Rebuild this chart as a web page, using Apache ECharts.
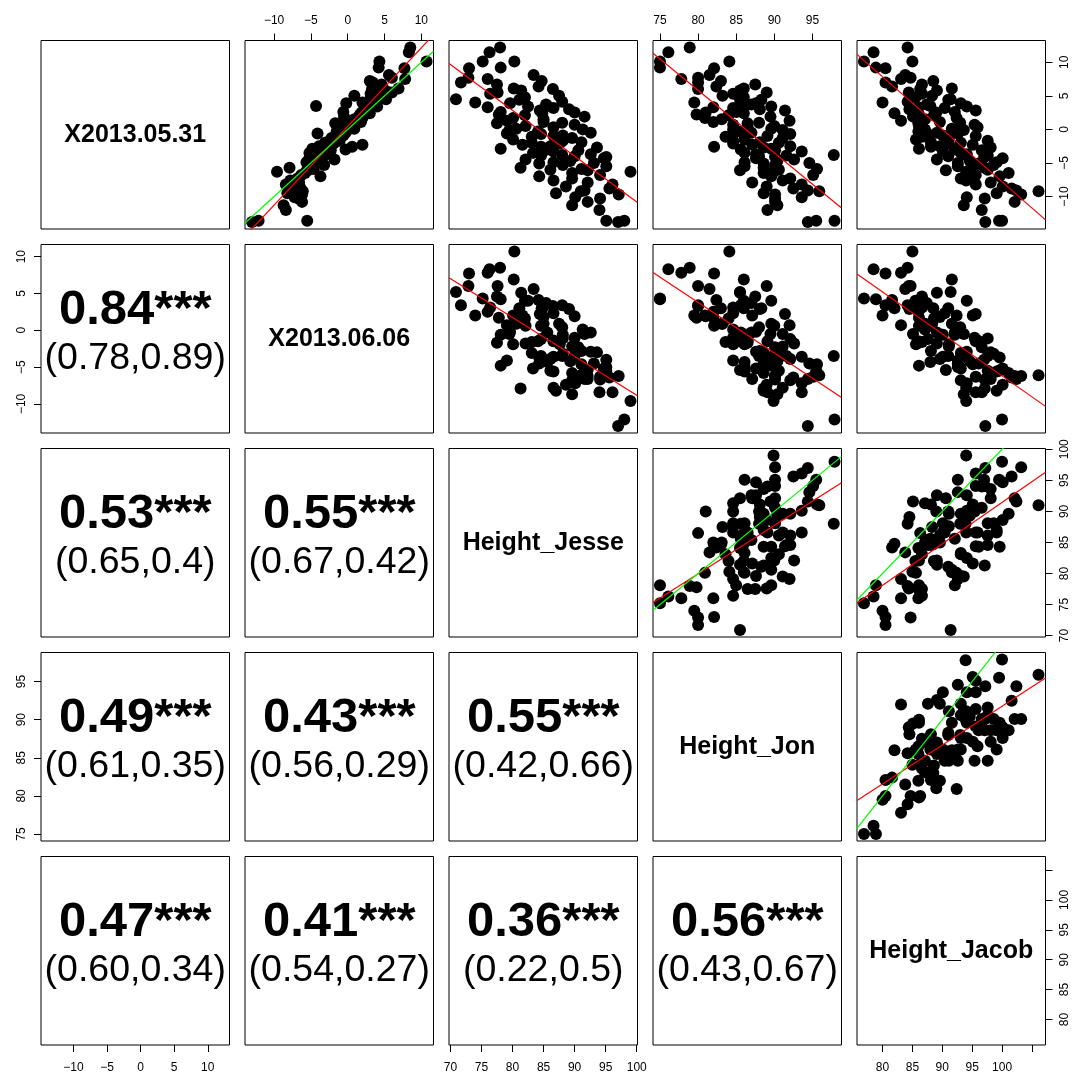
<!DOCTYPE html>
<html>
<head>
<meta charset="utf-8">
<script src="https://cdn.jsdelivr.net/npm/echarts@6.0.0/dist/echarts.min.js"></script>
<style>
html, body { margin: 0; padding: 0; background: #fff; }
#chart { width: 1076px; height: 1075px; }
</style>
</head>
<body>
<div id="chart"></div>
<script>
// variable names (diagonal)
const varNames = ['X2013.05.31', 'X2013.06.06', 'Height_Jesse', 'Height_Jon', 'Height_Jacob'];

const x0531 = [12.2, 11.5, 10.1, 10.1, 9.2, 9.1, 8.1, 7.7, 7.5, 7.2,
  7.0, 6.7, 6.4, 6.1, 6.0, 5.8, 5.5, 5.3, 5.0, 4.8,
  4.5, 4.4, 4.1, 4.0, 3.9, 3.7, 3.5, 3.4, 3.3, 3.2,
  3.0, 2.8, 2.6, 2.5, 2.4, 2.2, 2.1, 1.9, 1.7, 1.5,
  1.3, 1.1, 1.0, 0.9, 0.7, 0.5, 0.3, 0.1, 0.0, -0.1,
  -0.3, -0.5, -0.6, -0.7, -0.9, -1.0, -1.1, -1.3, -1.5, -1.7,
  -1.9, -2.0, -2.1, -2.3, -2.5, -2.6, -2.7, -2.9, -3.0, -3.1,
  -3.3, -3.5, -3.7, -3.8, -3.9, -4.0, -4.1, -4.3, -4.5, -4.7,
  -4.9, -5.0, -5.1, -5.3, -5.5, -5.7, -5.9, -6.0, -6.1, -6.3,
  -6.5, -6.8, -7.0, -7.3, -7.6, -7.9, -8.2, -8.5, -8.8, -9.1,
  -9.2, -9.5, -9.7, -10.1, -10.3, -10.8, -11.3, -12.0, -13.6, -13.6, -13.8];
const x0606 = [8.5, 8.3, 10.7, 4.3, 4.2, 7.7, 5.6, 6.0, 7.8, 3.0,
  3.4, 4.6, 4.1, 6.9, 3.3, 5.1, 6.0, 3.1, 0.9, 4.0,
  5.2, 3.0, 3.4, 2.0, -0.2, 3.7, -4.3, 4.0, 2.5, 2.3,
  2.9, 2.2, -0.6, 1.9, 3.0, 1.7, 1.6, -0.5, 2.0, 0.9,
  0.7, 1.8, 0.4, -1.7, -1.0, 0.6, -1.4, 0.9, 0.1, -0.5,
  -1.5, -0.3, -4.1, -1.2, -0.6, -1.5, -1.6, -2.2, -1.9, -1.1,
  -2.8, -3.1, -1.9, 2.0, -3.9, 0.6, -3.0, -4.8, -0.3, -2.3,
  -3.6, -5.2, -2.9, -3.5, -3.5, -3.5, -4.0, -5.2, -1.8, -4.2,
  -5.6, -4.5, -4.5, -3.2, -5.0, -7.9, -4.6, -5.5, -5.4, -9.6,
  -5.8, -6.3, -3.7, -6.8, -7.8, -6.6, -8.4, -7.4, -6.4, -6.6,
  -6.1, -8.2, -6.2, -7.2, -6.7, -6.2, -8.7, -8.4, -5.5, -12.1, -13.0];
const heightJesse = [78.0, 76.3, 80.3, 75.2, 78.1, 73.0, 83.4, 72.9, 76.0, 84.7,
  71.7, 77.5, 84.2, 80.2, 86.5, 81.4, 77.6, 76.4, 87.5, 82.0,
  70.9, 81.1, 88.0, 74.0, 79.6, 85.4, 85.6, 82.5, 76.0, 86.6,
  89.1, 84.4, 78.1, 90.0, 84.8, 77.8, 82.0, 91.6, 80.1, 85.0,
  79.1, 85.0, 88.0, 77.5, 90.0, 82.1, 86.6, 80.6, 91.3, 79.5,
  84.1, 92.6, 79.1, 84.6, 88.1, 86.6, 83.1, 89.6, 80.1, 88.1,
  91.1, 83.1, 87.6, 81.6, 86.1, 84.6, 93.6, 78.1, 85.6, 90.6,
  86.6, 83.3, 92.6, 88.0, 84.6, 90.0, 95.1, 94.7, 82.1, 89.3,
  86.6, 93.1, 84.3, 88.1, 95.1, 81.3, 91.1, 86.1, 92.1, 99.0,
  89.6, 94.1, 84.3, 89.6, 86.6, 92.1, 96.1, 88.6, 95.6, 91.6,
  91.0, 87.0, 97.1, 90.1, 94.1, 92.1, 89.6, 94.0, 95.1, 98.0, 97.0];
const heightJon = [78.9, 76.1, 84.1, 75.0, 75.0, 82.1, 81.5, 80.0, 77.8, 83.0,
  80.0, 87.5, 82.4, 86.0, 80.0, 85.5, 89.0, 84.6, 83.2, 86.0,
  85.5, 88.3, 85.6, 79.5, 87.6, 87.0, 86.1, 89.6, 82.0, 84.6,
  88.1, 91.4, 85.0, 81.0, 86.0, 79.8, 84.0, 89.5, 80.9, 83.1,
  92.0, 82.0, 88.0, 86.5, 84.6, 90.0, 86.5, 89.6, 84.6, 91.1,
  85.5, 87.0, 84.6, 92.1, 86.1, 89.1, 83.6, 91.1, 86.1, 84.6,
  88.1, 90.6, 84.6, 87.1, 92.1, 82.1, 88.6, 89.6, 85.6, 90.1,
  93.6, 86.1, 87.6, 97.8, 91.6, 88.0, 90.1, 87.6, 92.6, 90.4,
  86.1, 94.6, 88.6, 90.1, 86.1, 88.6, 95.6, 90.6, 85.5, 89.9,
  88.6, 95.1, 89.6, 92.1, 91.1, 87.1, 93.6, 89.0, 92.5, 94.4,
  95.9, 88.6, 90.1, 93.6, 90.1, 90.1, 90.4, 89.1, 95.5, 97.9, 94.4];
const heightJacob = [84.2, 78.5, 85.0, 76.9, 78.9, 80.5, 83.8, 84.7, 83.1, 88.5,
  80.5, 86.6, 81.6, 91.6, 86.3, 89.1, 84.4, 86.6, 88.3, 85.5,
  91.4, 91.0, 84.2, 80.0, 93.1, 87.4, 88.0, 94.1, 86.0, 90.4,
  84.5, 95.6, 92.1, 89.0, 82.0, 86.1, 88.6, 85.1, 92.4, 87.1,
  83.1, 89.6, 93.0, 86.0, 95.4, 86.1, 95.9, 91.6, 87.1, 93.6,
  86.0, 89.1, 92.6, 87.6, 90.1, 95.6, 86.6, 91.1, 85.6, 97.6,
  88.1, 93.1, 91.1, 95.1, 89.6, 88.1, 98.1, 86.1, 92.1, 96.6,
  90.1, 93.1, 94.1, 93.9, 97.6, 91.0, 97.0, 100.1, 89.1, 94.6,
  99.1, 92.6, 96.1, 98.6, 92.6, 97.1, 95.1, 97.6, 90.6, 94.0,
  101.1, 95.6, 99.6, 93.1, 94.0, 98.1, 95.6, 100.1, 101.6, 102.4,
  106.1, 99.1, 103.2, 94.1, 97.1, 102.1, 93.6, 96.6, 99.5, 100.0, 97.2];

// axis ticks and tick labels, per variable
const tickValues = [[-10, -5, 0, 5, 10], [-10, -5, 0, 5, 10], [70, 75, 80, 85, 90, 95, 100],
  [75, 80, 85, 90, 95], [80, 85, 90, 95, 100, 105]];
const tickLabels = [[-10, -5, 0, 5, 10], [-10, -5, 0, 5, 10], [70, 75, 80, 85, 90, 95, 100],
  [75, 80, 85, 90, 95], [80, 85, 90, 95, 100]];

// lower triangle: correlation and interval text
const corrRow = [1, 2, 2, 3, 3, 3, 4, 4, 4, 4];
const corrCol = [0, 0, 1, 0, 1, 2, 0, 1, 2, 3];
const corrValue = ['0.84***', '0.53***', '0.55***', '0.49***', '0.43***', '0.55***', '0.47***', '0.41***', '0.36***', '0.56***'];
const corrCI = ['(0.78,0.89)', '(0.65,0.4)', '(0.67,0.42)', '(0.61,0.35)', '(0.56,0.29)', '(0.42,0.66)', '(0.60,0.34)', '(0.54,0.27)', '(0.22,0.5)', '(0.43,0.67)'];

const FONT = '"Liberation Sans", Arial, Helvetica, sans-serif';
const L0 = 41, T0 = 40.5, STEP = 204, SIZE = 188.5;

const vars = [x0531, x0606, heightJesse, heightJon, heightJacob];
// R style: data range widened by 4%
const ranges = vars.map(v => {
    const lo = Math.min(...v), hi = Math.max(...v), pad = 0.04 * (hi - lo);
    return [lo - pad, hi + pad];
});
const fmt = v => v < 0 ? '\u2212' + Math.abs(v) : String(v);

function lm(xs, ys) {
    const n = xs.length;
    const mx = xs.reduce((a, b) => a + b, 0) / n;
    const my = ys.reduce((a, b) => a + b, 0) / n;
    let sxy = 0, sxx = 0;
    for (let k = 0; k < n; k++) {
        sxy += (xs[k] - mx) * (ys[k] - my);
        sxx += (xs[k] - mx) * (xs[k] - mx);
    }
    const b = sxy / sxx;
    return { a: my - b * mx, b: b };
}

const grids = [], xAxes = [], yAxes = [], series = [], graphics = [];
for (let i = 0; i < 5; i++) {
    for (let j = 0; j < 5; j++) {
        const g = i * 5 + j;
        const left = L0 + STEP * j, top = T0 + STEP * i;
        grids.push({
            left: left, top: top, width: SIZE, height: SIZE,
            show: true, borderColor: '#000', borderWidth: 1, backgroundColor: 'rgba(0,0,0,0)',
            containLabel: false, outerBoundsMode: 'none'
        });
        const showX = (i === 0 && j % 2 === 1) || (i === 4 && j % 2 === 0);
        const showY = (j === 0 && i % 2 === 1) || (j === 4 && i % 2 === 0);
        xAxes.push({
            type: 'value', gridIndex: g, min: ranges[j][0], max: ranges[j][1],
            position: i === 0 ? 'top' : 'bottom',
            axisLine: { show: false, onZero: false }, splitLine: { show: false },
            axisTick: { show: showX, length: 7, customValues: tickValues[j], lineStyle: { color: '#000', width: 1 } },
            axisLabel: { show: showX, customValues: tickLabels[j], formatter: fmt, fontSize: 12, color: '#000', fontFamily: FONT, margin: i === 0 ? 14 : 17 }
        });
        yAxes.push({
            type: 'value', gridIndex: g, min: ranges[i][0], max: ranges[i][1],
            position: j === 0 ? 'left' : 'right',
            axisLine: { show: false, onZero: false }, splitLine: { show: false },
            axisTick: { show: showY, length: 7, customValues: tickValues[i], lineStyle: { color: '#000', width: 1 } },
            axisLabel: { show: showY, customValues: tickLabels[i], formatter: fmt, rotate: 90, fontSize: 12, color: '#000', fontFamily: FONT, margin: 13 }
        });

        const cx = left + SIZE / 2, cy = top + SIZE / 2;
        if (i === j) {
            graphics.push({
                type: 'text', x: cx, y: cy,
                style: { text: varNames[i], font: 'bold 25px ' + FONT, fill: '#000', align: 'center', verticalAlign: 'middle', textAlign: 'center', textVerticalAlign: 'middle' }
            });
        } else if (j > i) {
            // upper panel: x = column variable, y = row variable
            series.push({
                type: 'scatter', xAxisIndex: g, yAxisIndex: g, silent: true, z: 2,
                data: vars[j].map((x, k) => [x, vars[i][k]]),
                symbol: 'circle', symbolSize: 12, itemStyle: { color: '#000', opacity: 1 }
            });
            const fit = lm(vars[j], vars[i]);
            series.push({
                type: 'line', xAxisIndex: g, yAxisIndex: g, silent: true, z: 3, clip: true,
                data: ranges[j].map(x => [x, fit.a + fit.b * x]),
                symbol: 'none', lineStyle: { color: '#ff0000', width: 1.2 }
            });
            // identity line
            series.push({
                type: 'line', xAxisIndex: g, yAxisIndex: g, silent: true, z: 4, clip: true,
                data: ranges[j].map(x => [x, x]),
                symbol: 'none', lineStyle: { color: '#00ff00', width: 1.2 }
            });
        }
    }
}

for (let k = 0; k < corrRow.length; k++) {
    const cx = L0 + STEP * corrCol[k] + SIZE / 2;
    const cy = T0 + STEP * corrRow[k] + SIZE / 2;
    graphics.push({
        type: 'text', x: cx, y: cy - 28,
        style: { text: corrValue[k], font: 'bold 49px ' + FONT, fill: '#000', align: 'center', verticalAlign: 'middle', textAlign: 'center', textVerticalAlign: 'middle' }
    });
    graphics.push({
        type: 'text', x: cx, y: cy + 19.5,
        style: { text: corrCI[k], font: '37.5px ' + FONT, fill: '#000', align: 'center', verticalAlign: 'middle', textAlign: 'center', textVerticalAlign: 'middle' }
    });
}

const chart = echarts.init(document.getElementById('chart'), null, { renderer: 'canvas' });
chart.setOption({
    animation: false,
    backgroundColor: '#fff',
    grid: grids,
    xAxis: xAxes,
    yAxis: yAxes,
    series: series,
    graphic: graphics
});
</script>
</body>
</html>
